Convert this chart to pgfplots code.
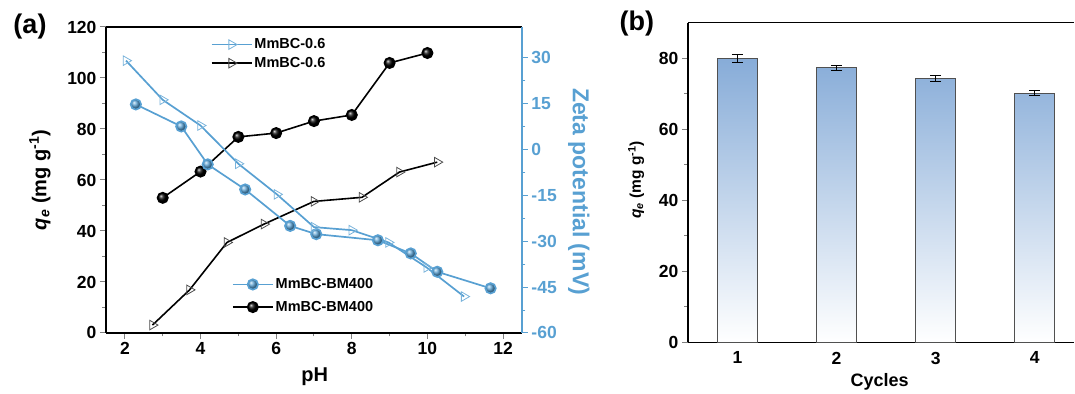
\documentclass[border=0pt]{standalone}
\usepackage{pgfplots}
\usepackage{pgfplotstable}
\pgfplotsset{compat=1.18}
\usepackage{fontspec}
\setmainfont{Liberation Sans}
\definecolor{zblue}{RGB}{88,160,210}
\definecolor{bartop}{RGB}{135,172,216}
\definecolor{barline}{RGB}{80,80,80}

\pgfplotstableread{
x y
3.0 53.0
4.0 63.3
5.0 76.9
6.0 78.4
7.0 83.1
8.0 85.5
9.0 105.9
10.0 109.8
}\qBM
\pgfplotstableread{
x y
2.73 3.1
3.71 16.9
4.70 35.5
5.68 42.7
7.00 51.6
8.27 53.2
9.26 63.1
10.26 67.0
}\qSix
\pgfplotstableread{
x y
2.03 29.0
3.00 16.2
4.00 7.8
5.00 -4.7
6.02 -14.7
7.00 -25.4
8.00 -26.4
8.97 -30.4
9.98 -38.6
10.97 -48.1
}\zSix
\pgfplotstableread{
x y
2.29 14.7
3.49 7.5
4.19 -4.9
5.18 -13.1
6.37 -25.0
7.06 -27.7
8.69 -29.7
9.56 -34.0
10.26 -40.0
11.67 -45.4
}\zBM
\pgfplotstableread{
x y err
1 79.9 1.1
2 77.3 0.7
3 74.2 0.8
4 70.2 0.6
}\cyc

\newcommand{\qelabel}{\textit{q}\textsubscript{\textit{e}} (mg g\textsuperscript{-1})}

\pgfplotsset{
  common/.style={
    scale only axis, anchor=south west,
    /pgf/number format/assume math mode=true,
    tick label style={font=\fontsize{17.5}{20}\selectfont\bfseries},
    label style={font=\fontsize{20}{24}\selectfont\bfseries},
    tick align=outside,
    major tick length=6pt, minor tick length=3.5pt,
    every tick/.append style={line width=1pt},
    axis line style={line width=1.2pt, -},
  },
  tri/.style={mark=triangle, mark size=5.5pt, mark options={rotate=-90, fill=white, line width=0.8pt, draw=#1}},
}

\begin{document}
\begin{tikzpicture}
\path (0pt,0pt) rectangle (1075pt,394pt);

% ---------- panel (a): q_e (left axis)
\begin{axis}[common,
  at={(106pt,61pt)}, width=416pt, height=306pt,
  xmin=1.5, xmax=12.5, ymin=0, ymax=120,
  axis x line*=box, axis y line*=left,
  x axis line style={-}, y axis line style={-},
  xtick={2,4,...,12}, minor x tick num=1,
  ytick={0,20,...,120}, minor y tick num=1,
  xtick pos=left, ytick pos=left,
  xlabel={pH},
  xlabel style={at={(axis description cs:0.502,-0.144)}, anchor=center},
  ylabel={\qelabel},
  ylabel style={at={(axis description cs:-0.159,0.5)}, anchor=center},
]
\addplot[black, line width=1.6pt, mark=ball, mark size=5.2pt, mark options={ball color=black}] table[x=x,y=y]{\qBM};
\addplot[black, line width=1.6pt, tri=black!70] table[x=x,y=y]{\qSix};
\end{axis}

% ---------- panel (a): zeta potential (right axis)
\begin{axis}[common,
  at={(106pt,61pt)}, width=416pt, height=306pt,
  xmin=1.5, xmax=12.5, ymin=-60, ymax=40,
  axis x line=none, axis y line*=right,
  y axis line style={zblue, line width=1.6pt, -},
  ytick={-60,-45,...,30}, minor y tick num=1,
  ytick pos=right,
  y tick style={zblue},
  minor y tick style={zblue},
  yticklabel style={zblue},
  ylabel={Zeta potential (mV)},
  ylabel style={at={(axis description cs:1.137,0.462)}, anchor=center, rotate=180, zblue, font=\fontsize{23}{27}\selectfont\bfseries},
]
\addplot[zblue, line width=1.7pt, mark=ball, mark size=5.2pt, mark options={ball color=zblue}] table[x=x,y=y]{\zBM};
\addplot[zblue, line width=1.7pt, tri=zblue!80] table[x=x,y=y]{\zSix};
\end{axis}

% ---------- legends of panel (a)
\pgfplotsset{legax/.style={
  scale only axis, anchor=south west, at={(106pt,61pt)}, width=416pt, height=306pt,
  hide axis, xmin=0, xmax=1, ymin=0, ymax=1,
  legend cell align=left,
  legend image code/.code={\draw[mark repeat=2,mark phase=2,##1] plot coordinates {(0pt,0pt) (20pt,0pt) (40pt,0pt)};},
}}
\begin{axis}[legax,
  legend style={at={(0.249,0.972)}, anchor=north west, draw=none, fill=none,
    font=\fontsize{14.5}{17}\selectfont\bfseries, row sep=3pt, inner sep=1pt},
]
\addlegendimage{zblue, line width=1.7pt, tri=zblue!80}
\addlegendentry{MmBC-0.6}
\addlegendimage{black, line width=1.6pt, tri=black!70}
\addlegendentry{MmBC-0.6}
\end{axis}
\begin{axis}[legax,
  legend style={at={(0.300,0.188)}, anchor=north west, draw=none, fill=none,
    font=\fontsize{14.5}{17}\selectfont\bfseries, row sep=7pt, inner sep=1pt},
]
\addlegendimage{zblue, line width=1.7pt, mark=ball, mark size=5.2pt, mark options={ball color=zblue}}
\addlegendentry{MmBC-BM400}
\addlegendimage{black, line width=1.6pt, mark=ball, mark size=5.2pt, mark options={ball color=black}}
\addlegendentry{MmBC-BM400}
\end{axis}

% ---------- panel (b)
\begin{axis}[common,
  at={(688pt,51.7pt)}, width=386.5pt, height=319.6pt,
  xmin=0.5, xmax=4.4, ymin=0, ymax=90,
  axis x line*=box, axis y line*=left,
  x axis line style={-}, y axis line style={-},
  xtick={1,2,3,4}, ytick={0,20,...,80}, minor y tick num=1,
  xtick pos=left, ytick pos=left,
  x tick style={draw=none},
  xlabel={Cycles},
  xlabel style={at={(axis description cs:0.496,-0.124)}, anchor=center, font=\fontsize{18}{22}\selectfont\bfseries},
  ylabel={\qelabel},
  ylabel style={at={(axis description cs:-0.134,0.508)}, anchor=center, font=\fontsize{15.5}{18}\selectfont\bfseries},
]
\addplot[ybar, bar width=0.4, draw=barline, line width=1pt, top color=bartop, bottom color=white,
  error bars/.cd, y dir=both, y explicit,
  error bar style={line width=1pt, black},
  error mark options={rotate=90, mark size=5.5pt, line width=1pt, black}]
  table[x=x, y=y, y error=err]{\cyc};
\end{axis}

\node[font=\fontsize{27}{32}\selectfont\bfseries] at (30pt,367pt) {(a)};
\node[font=\fontsize{27}{32}\selectfont\bfseries] at (637pt,370pt) {(b)};
\end{tikzpicture}
\end{document}
